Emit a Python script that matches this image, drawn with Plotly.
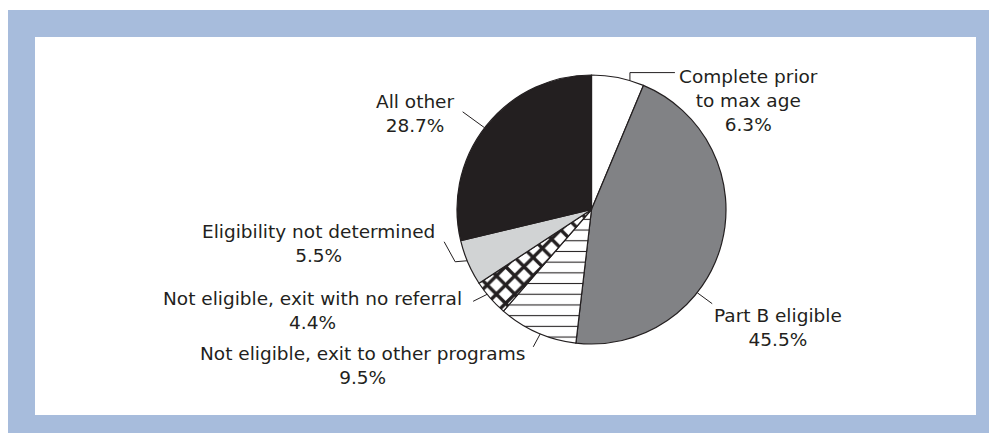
import math
import plotly.graph_objects as go

# ---------------- data ----------------
labels = [
    "Complete prior to max age",
    "Part B eligible",
    "Not eligible, exit to other programs",
    "Not eligible, exit with no referral",
    "Eligibility not determined",
    "All other",
]
label_lines = [
    ["Complete prior", "to max age"],
    ["Part B eligible"],
    ["Not eligible, exit to other programs"],
    ["Not eligible, exit with no referral"],
    ["Eligibility not determined"],
    ["All other"],
]
values = [6.3, 45.5, 9.5, 4.4, 5.5, 28.7]

# ---------------- style / layout ----------------
W, H = 989, 433
INK = "#231f20"
FRAME = "#a7bcdc"

def px(x):
    return x / W

def py(y):
    return 1 - y / H

CX, CY, R = 591.5, 209.5, 134.5

fills = ["#ffffff", "#818285", "#ffffff", "#ffffff", "#d1d3d4", INK]
pat_shapes = ["", "", "-", "x", "", ""]
pat_sizes = [8, 8, 10.7, 13, 8, 8]
pat_solid = [0.2, 0.2, 0.1, 0.45, 0.2, 0.2]

# label block centre (px) and leader geometry (anchor angle on rim, then relative points)
label_pos = [(748, 100.5), (778, 327.5), (362, 365), (312, 310), (318, 243), (415, 113)]
leaders = [
    (16.6, [(0, -8), (45, -8)]),
    (128.2, [(15, 11)]),
    (202.4, [(-7, 13)]),
    (230.9, [(-14, 7)]),
    (247.6, [(-12, 1), (-23, -19)]),
    (307.4, [(-22, -16)]),
]

fig = go.Figure(
    go.Pie(
        values=values,
        labels=labels,
        sort=False,
        direction="clockwise",
        rotation=0,
        textinfo="none",
        hoverinfo="label+percent",
        showlegend=False,
        domain=dict(x=[px(CX - R), px(CX + R)], y=[py(CY + R), py(CY - R)]),
        marker=dict(
            colors=fills,
            line=dict(color=INK, width=1.2),
            pattern=dict(
                shape=pat_shapes,
                fgcolor=INK,
                bgcolor=fills,
                size=pat_sizes,
                solidity=pat_solid,
                fillmode="replace",
            ),
        ),
    )
)

shapes = [
    dict(type="rect", xref="paper", yref="paper", x0=px(8), x1=px(989), y0=py(433), y1=py(10),
         fillcolor=FRAME, line=dict(width=0), layer="below"),
    dict(type="rect", xref="paper", yref="paper", x0=px(35), x1=px(976), y0=py(415), y1=py(37),
         fillcolor="white", line=dict(width=0), layer="below"),
]
for ang, pts in leaders:
    a = math.radians(ang)
    ax0 = CX + R * math.sin(a)
    ay0 = CY - R * math.cos(a)
    path = f"M {px(ax0)} {py(ay0)}"
    for dx, dy in pts:
        path += f" L {px(ax0 + dx)} {py(ay0 + dy)}"
    shapes.append(dict(type="path", xref="paper", yref="paper", path=path,
                       line=dict(color=INK, width=1), layer="above"))

annotations = []
for lines, v, (lx, ly) in zip(label_lines, values, label_pos):
    annotations.append(dict(
        xref="paper", yref="paper", x=px(lx), y=py(ly),
        xanchor="center", yanchor="middle", showarrow=False, align="center",
        text="<br>".join(lines + [f"{v}%"]),
        font=dict(family="DejaVu Sans", size=18.5, color=INK),
    ))

fig.update_layout(
    width=W, height=H,
    margin=dict(l=0, r=0, t=0, b=0),
    paper_bgcolor="white",
    plot_bgcolor="white",
    shapes=shapes,
    annotations=annotations,
)

fig.write_html(
    "out.html",
    config={"displayModeBar": False},
    post_script="document.body.style.margin='0';document.body.style.overflow='hidden';",
)
